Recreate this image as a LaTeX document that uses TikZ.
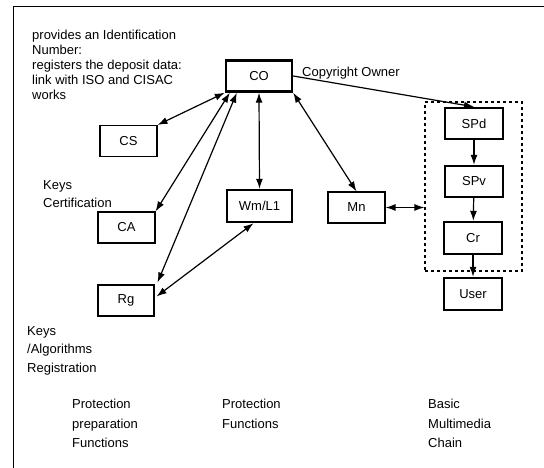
\documentclass[tikz,border=0pt]{standalone}
\usepackage{fontspec}
\setmainfont{Liberation Sans}
\usetikzlibrary{arrows.meta}
\begin{document}
\begin{tikzpicture}[x=1pt,y=-1pt,
  txt/.style={font=\fontsize{13}{15}\selectfont},
  box/.style={draw, line width=1.1pt, minimum width=57pt, minimum height=31pt, inner sep=0pt, txt},
  thickbox/.style={box, line width=2.4pt},
  lbl/.style={align=left, inner sep=0pt, anchor=north west},
  conn/.style={line width=1.2pt, {Latex[length=10pt,width=7pt]}-{Latex[length=10pt,width=7pt]}},
  one/.style={line width=1.2pt, -{Latex[length=10pt,width=7pt]}},
]
\useasboundingbox (0,0) rectangle (544,468);
\fill[white] (0,0) rectangle (544,468);
% frame
\draw[line width=1pt] (13,468) -- (13,7) -- (544,7);

% nodes
\node[thickbox, minimum width=66pt] (CO) at (259,76) {CO};
\node[box] (CS) at (128.5,141) {CS};
\node[box] (CA) at (126.5,227.5) {CA};
\node[box, minimum width=56pt] (Rg) at (126,300.5) {Rg};
\node[thickbox, minimum width=65pt, minimum height=32pt] (Wm) at (259.5,206) {Wm/L1};
\node[box] (Mn) at (356.5,207.5) {Mn};
\node[draw, dashed, line width=1.1pt, minimum width=97pt, minimum height=169pt, inner sep=0pt] (chain) at (473.5,186.5) {};
\node[thickbox, minimum width=58pt] (SPd) at (474,123.5) {SPd};
\node[thickbox, minimum width=58pt] (SPv) at (474,181.5) {SPv};
\node[thickbox, minimum width=58pt, minimum height=32pt] (Cr) at (473,238) {Cr};
\node[thickbox, minimum width=58pt, minimum height=32pt] (User) at (473,294) {User};

% labels
\node[lbl, font=\fontsize{13}{15}\selectfont] (info) at (32,30) {provides an Identification\\Number:\\registers the deposit data:\\link with ISO and CISAC\\works};
\node[txt, anchor=west, inner sep=0pt] (owner) at (302,73) {Copyright Owner};
\node[lbl, font=\fontsize{13}{18}\selectfont] (kc) at (43,180) {Keys\\Certification};
\node[lbl, font=\fontsize{13}{18.5}\selectfont] (kar) at (27,326) {Keys\\/Algorithms\\Registration};
\node[lbl, font=\fontsize{13}{19.5}\selectfont] (ppf) at (72,399) {Protection\\preparation\\Functions};
\node[lbl, font=\fontsize{13}{19.5}\selectfont] (pf) at (222,399) {Protection\\Functions};
\node[lbl, font=\fontsize{13}{19.5}\selectfont] (bmc) at (428,399) {Basic\\Multimedia\\Chain};

% connectors
\draw[conn] (CO.south west) -- (CS.north east);
\draw[conn] ([xshift=5pt]CO.south west) -- (CA.north east);
\draw[conn] ([xshift=12pt]CO.south west) -- ([xshift=3pt,yshift=2pt]Rg.north east);
\draw[conn] (CO.south) -- (Wm.north);
\draw[conn] (CO.south east) -- (Mn.north);
\draw[conn] ([xshift=-6pt]Wm.south) -- ([xshift=2pt,yshift=4pt]Rg.east);
\draw[conn] (Mn.east) -- (Mn.east -| chain.west);
\draw[one] (CO.east) -- (SPd.north);
\draw[one] (SPd) -- (SPv);
\draw[one] (SPv) -- (Cr);
\draw[one] (Cr) -- (User);
\end{tikzpicture}
\end{document}
